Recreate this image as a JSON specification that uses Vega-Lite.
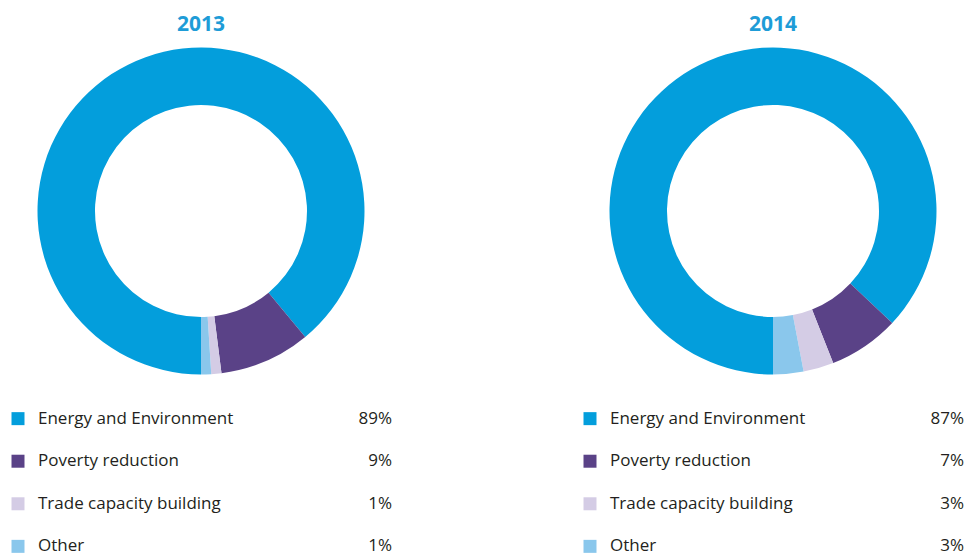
{
  "$schema": "https://vega.github.io/schema/vega-lite/v6.json",
  "padding": {"left": 8, "top": 14, "right": 0, "bottom": 0},
  "background": "white",
  "config": {"view": {"stroke": null}, "font": "Open Sans"},
  "data": {
    "values": [
      {"year": "2013", "category": "Energy and Environment", "pct": 0.89, "order": 1},
      {"year": "2013", "category": "Poverty reduction", "pct": 0.09, "order": 2},
      {"year": "2013", "category": "Trade capacity building", "pct": 0.01, "order": 3},
      {"year": "2013", "category": "Other", "pct": 0.01, "order": 4},
      {"year": "2014", "category": "Energy and Environment", "pct": 0.87, "order": 1},
      {"year": "2014", "category": "Poverty reduction", "pct": 0.07, "order": 2},
      {"year": "2014", "category": "Trade capacity building", "pct": 0.03, "order": 3},
      {"year": "2014", "category": "Other", "pct": 0.03, "order": 4}
    ]
  },
  "spacing": 27,
  "vconcat": [
    {
      "facet": {"column": {"field": "year", "type": "nominal", "header": {"title": null, "labelFontSize": 21, "labelFontWeight": "bold", "labelColor": "#1E9CD7", "labelFont": "Open Sans", "labelPadding": 6}}},
      "spacing": 186,
      "spec": {
        "width": 386,
        "height": 340,
        "mark": {"type": "arc", "outerRadius": 163.5, "innerRadius": 106},
        "encoding": {
          "theta": {"field": "pct", "type": "quantitative", "stack": true, "scale": {"range": [3.14159265, 9.42477796]}},
          "order": {"field": "order", "type": "quantitative"},
          "color": {
            "field": "category", "type": "nominal",
            "scale": {"domain": ["Energy and Environment", "Poverty reduction", "Trade capacity building", "Other"], "range": ["#039EDC", "#5A4287", "#D4CCE5", "#8AC7EC"]},
            "legend": null
          }
        }
      }
    },
    {
      "facet": {"column": {"field": "year", "type": "nominal", "header": null}},
      "spacing": 186,
      "spec": {
        "width": 386,
        "height": 149,
        "encoding": {
          "y": {"field": "category", "type": "nominal", "sort": ["Energy and Environment", "Poverty reduction", "Trade capacity building", "Other"], "scale": {"type": "point", "padding": 0.25}, "axis": null}
        },
        "layer": [
          {
            "mark": {"type": "square", "size": 169, "filled": true, "opacity": 1},
            "encoding": {
              "x": {"value": 10},
              "color": {
                "field": "category", "type": "nominal",
                "scale": {"domain": ["Energy and Environment", "Poverty reduction", "Trade capacity building", "Other"], "range": ["#039EDC", "#5A4287", "#D4CCE5", "#8AC7EC"]},
                "legend": null
              }
            }
          },
          {
            "mark": {"type": "text", "align": "left", "baseline": "middle", "fontSize": 17, "font": "Open Sans", "color": "#231F20"},
            "encoding": {"x": {"value": 30}, "text": {"field": "category"}}
          },
          {
            "mark": {"type": "text", "align": "right", "baseline": "middle", "fontSize": 17, "font": "Open Sans", "color": "#231F20"},
            "encoding": {"x": {"value": 384}, "text": {"field": "pct", "type": "quantitative", "format": ".0%"}}
          }
        ]
      }
    }
  ]
}
